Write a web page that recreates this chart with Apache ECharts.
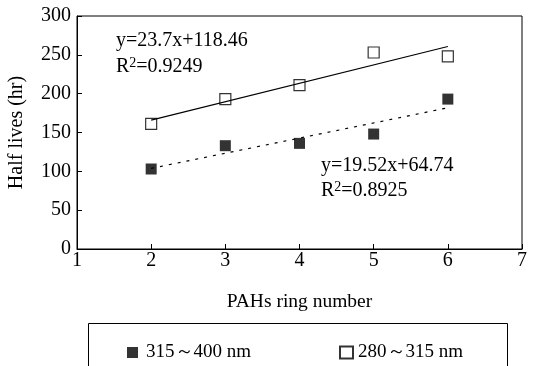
<!DOCTYPE html>
<html><head><meta charset="utf-8">
<script src="https://cdn.jsdelivr.net/npm/echarts@6/dist/echarts.min.js"></script>
<style>html,body{margin:0;padding:0;background:#fff}#c{width:543px;height:366px}</style>
</head><body><div id="c"></div>
<script>
var ringNumbers = [2, 3, 4, 5, 6];
var uvaValues = [103, 133, 136, 148, 193];   // 315~400 nm (filled)
var uvbValues = [161, 193, 211, 253, 248];   // 280~315 nm (open)
var fitX = [2, 6];
var uvbFit = [165.9, 260.7];  // y=23.7x+118.46
var uvaFit = [103.8, 181.8];  // y=19.52x+64.74
var xTicks = [1, 2, 3, 4, 5, 6, 7];
var yTicks = [0, 50, 100, 150, 200, 250, 300];
var nameA = '315～400 nm', nameB = '280～315 nm';

function pairs(xs, ys){ return xs.map(function(x,i){return [x, ys[i]];}); }
var FONT = '"Liberation Serif","Times New Roman",serif';
var chart = echarts.init(document.getElementById('c'));
chart.setOption({
  animation: false,
  textStyle: {fontFamily: FONT, color: '#000'},
  grid: {left: 77, right: 21, top: 16, bottom: 117, show: true, borderColor: '#000', borderWidth: 1,
         containLabel: false, outerBoundsMode: 'none'},
  xAxis: {
    type: 'value', min: xTicks[0], max: xTicks[xTicks.length-1], interval: 1,
    name: 'PAHs ring number', nameLocation: 'middle', nameGap: 43,
    nameTextStyle: {fontSize: 19.5, fontFamily: FONT, color: '#000'},
    axisLine: {lineStyle: {color: '#000', width: 1}},
    axisTick: {inside: true, length: 5, lineStyle: {color: '#000'}},
    axisLabel: {fontSize: 20, fontFamily: FONT, color: '#000', margin: 2},
    splitLine: {show: false}
  },
  yAxis: {
    type: 'value', min: yTicks[0], max: yTicks[yTicks.length-1], interval: 50,
    name: 'Half lives (hr)', nameLocation: 'middle', nameGap: 50,
    nameTextStyle: {fontSize: 20, fontFamily: FONT, color: '#000'},
    axisLine: {show: true, lineStyle: {color: '#000', width: 1}},
    axisTick: {show: true, inside: true, length: 5, lineStyle: {color: '#000'}},
    axisLabel: {fontSize: 20, fontFamily: FONT, color: '#000', margin: 6},
    splitLine: {show: false}
  },
  legend: [
    {data: [nameA], left: 127, top: 343, padding: 0, itemWidth: 11, itemHeight: 11, itemGap: 0,
     textStyle: {fontSize: 19, fontFamily: FONT, color: '#000', padding: [0,0,0,3]}},
    {data: [nameB], left: 339, top: 343, padding: 0, itemWidth: 13, itemHeight: 12, itemGap: 0,
     textStyle: {fontSize: 19, fontFamily: FONT, color: '#000', padding: [0,0,0,0]}}
  ],
  graphic: [
    {type: 'rect', shape: {x: 88.5, y: 323.5, width: 419, height: 80}, style: {fill: 'none', stroke: '#000', lineWidth: 1}, silent: true},
    {type: 'text', left: 116, top: 31, style: {text: 'y=23.7x+118.46', font: '20px ' + FONT, fill: '#000'}},
    {type: 'text', left: 116, top: 56, style: {rich: {a: {font: '20px ' + FONT, fill: '#000'}, s: {font: '14px ' + FONT, fill: '#000', verticalAlign: 'top', padding: [0,0,8,0]}}, text: '{a|R}{s|2}{a|=0.9249}'}},
    {type: 'text', left: 321, top: 156, style: {text: 'y=19.52x+64.74', font: '20px ' + FONT, fill: '#000'}},
    {type: 'text', left: 321, top: 180, style: {rich: {a: {font: '20px ' + FONT, fill: '#000'}, s: {font: '14px ' + FONT, fill: '#000', verticalAlign: 'top', padding: [0,0,8,0]}}, text: '{a|R}{s|2}{a|=0.8925}'}}
  ],
  series: [
    {name: 'fitB', type: 'line', data: pairs(fitX, uvbFit), symbol: 'none', lineStyle: {color: '#000', width: 1.2}, silent: true},
    {name: 'fitA', type: 'line', data: pairs(fitX, uvaFit), symbol: 'none', lineStyle: {color: '#000', width: 1.2, type: [3, 6]}, silent: true},
    {name: nameA, type: 'scatter', data: pairs(ringNumbers, uvaValues), symbol: 'rect', symbolSize: 11,
     itemStyle: {color: '#000', borderColor: '#000', borderWidth: 0}},
    {name: nameB, type: 'scatter', data: pairs(ringNumbers, uvbValues), symbol: 'rect', symbolSize: 11,
     itemStyle: {color: '#fff', borderColor: '#000', borderWidth: 1.2}}
  ]
});
</script></body></html>
